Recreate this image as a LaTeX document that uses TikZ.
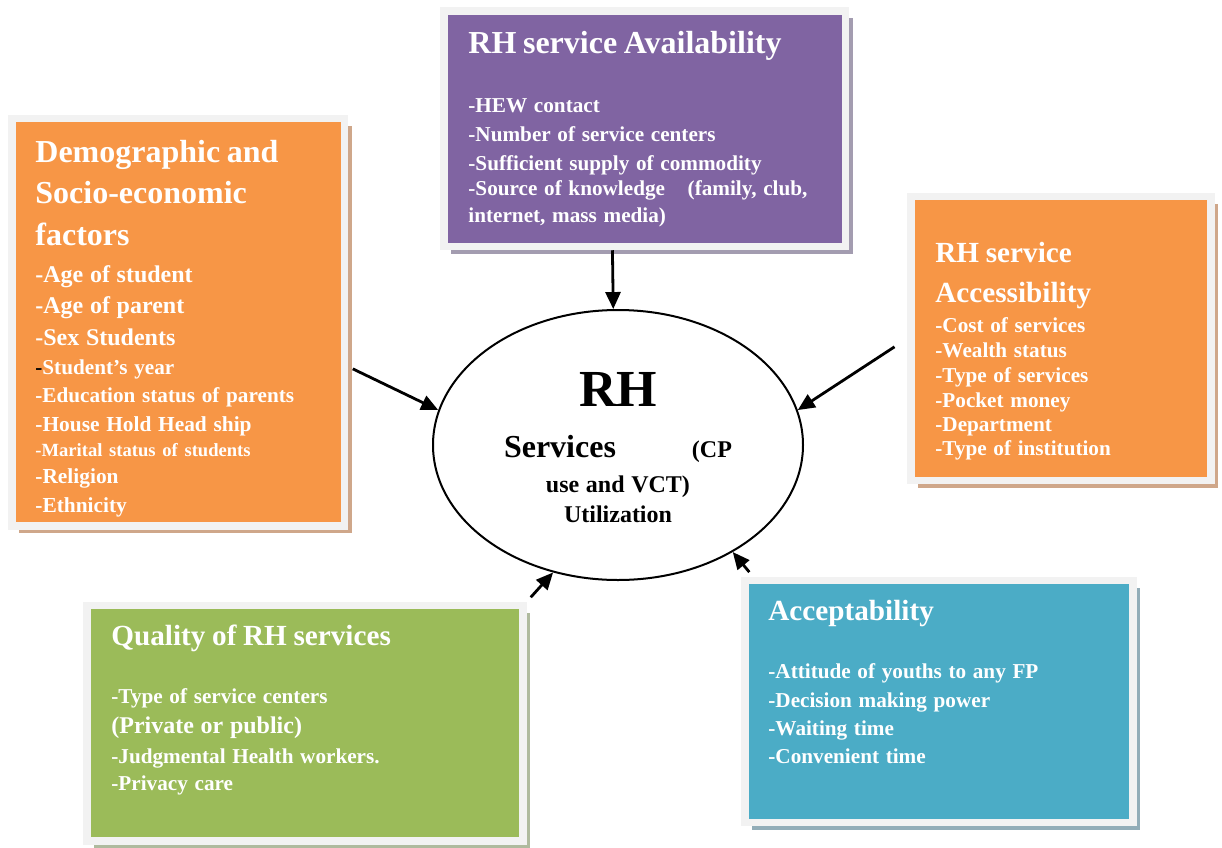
\documentclass[tikz,border=0pt]{standalone}
\usepackage{fontspec}
\setmainfont{Liberation Serif}
\usepackage{xcolor}
\usepackage{tikz}
\usetikzlibrary{arrows.meta,
                calc,
                shadows,
                shapes.geometric}
\definecolor{demoorange}{HTML}{F79646}
\definecolor{availpurple}{HTML}{8064A2}
\definecolor{qualgreen}{HTML}{9BBB59}
\definecolor{acceptblue}{HTML}{4BACC6}
\definecolor{framegray}{HTML}{F2F2F2}
\definecolor{orangeshade}{HTML}{CFA78A}
\definecolor{purpleshade}{HTML}{A39CB0}
\definecolor{greenshade}{HTML}{AFBA9E}
\definecolor{blueshade}{HTML}{92ADB8}
\tikzstyle{arrow} = [line width=1.4pt,-{Triangle[length=8.5pt,width=7.5pt]}]
\tikzstyle{panel} = [rectangle, draw=framegray, line width=3.75pt, inner sep=0pt]
\tikzstyle{paneltext} = [text=white, text width=180pt, align=left, inner sep=0pt, anchor=base west, font=\bfseries]
\tikzset{panelshadow/.style={drop shadow={opacity=1, fill=#1, shadow xshift=3.5pt, shadow yshift=-3.5pt}}}
% one line of text: size, distance from the line above, text
\newcommand{\tline}[3]{{\fontsize{#1}{#2}\selectfont #3\par}}

\begin{document}
\begin{tikzpicture}[x=0.5pt,y=-0.5pt]
        \fill[white] (0,0) rectangle (1222,847);
        \useasboundingbox (0,0) rectangle (1222,847);

        % the five factor boxes
        \node[panel, fill=demoorange, panelshadow=orangeshade, minimum width=166.25pt, minimum height=203.75pt] (demo) at (178.25,322.25) {};
        \node[panel, fill=availpurple, panelshadow=purpleshade, minimum width=200.75pt, minimum height=117.75pt] (avail) at (644.75,128.75) {};
        \node[panel, fill=demoorange, panelshadow=orangeshade, minimum width=150pt, minimum height=142pt] (access) at (1061,338.5) {};
        \node[panel, fill=qualgreen, panelshadow=greenshade, minimum width=218pt, minimum height=117.75pt] (quality) at (305,723.25) {};
        \node[panel, fill=acceptblue, panelshadow=blueshade, minimum width=194pt, minimum height=121pt] (accept) at (939,701.5) {};

        \node[paneltext] (demotxt) at (35,162) {%
            \tline{16}{20}{Demographic and}
            \tline{16}{20.5}{Socio-economic}
            \tline{16}{21}{factors}
            \tline{12}{18.5}{-Age of student}
            \tline{12}{15.5}{-Age of parent}
            \tline{12}{16}{-Sex Students}
            \tline{10.6}{14.5}{\textcolor{black}{-}Student’s year}
            \tline{10.6}{14}{-Education status of parents}
            \tline{10.7}{14.5}{-House Hold Head ship}
            \tline{9.3}{12.5}{-Marital status of students}
            \tline{10.7}{13.5}{-Religion}
            \tline{10.7}{14.5}{-Ethnicity}};
        \node[paneltext, text width=190pt] (availtxt) at (468,53) {%
            \tline{16}{20}{RH service Availability}
            \tline{10.6}{29.5}{-HEW contact}
            \tline{10.6}{14.5}{-Number of service centers}
            \tline{10.6}{14.5}{-Sufficient supply of commodity}
            \tline{10.6}{12.5}{-Source of knowledge \hspace*{8pt}(family, club,}
            \tline{10.6}{13.5}{internet, mass media)}};
        \node[paneltext, text width=140pt] (accesstxt) at (935,262) {%
            \tline{14.6}{18}{RH service}
            \tline{14.6}{20}{Accessibility}
            \tline{10.6}{15}{-Cost of services}
            \tline{10.6}{12.5}{-Wealth status}
            \tline{10.6}{12.5}{-Type of services}
            \tline{10.6}{12.5}{-Pocket money}
            \tline{10.6}{12}{-Department}
            \tline{10.6}{12}{-Type of institution}};
        \node[paneltext] (qualitytxt) at (111,645) {%
            \tline{14.6}{18}{Quality of RH services}
            \tline{10.6}{29}{-Type of service centers}
            \tline{12}{15}{(Private or public)}
            \tline{10.6}{15}{-Judgmental Health workers.}
            \tline{10.6}{13.5}{-Privacy care}};
        \node[paneltext] (accepttxt) at (768,620) {%
            \tline{14.6}{18}{Acceptability}
            \tline{10.6}{29}{-Attitude of youths to any FP}
            \tline{10.6}{14.5}{-Decision making power}
            \tline{10.6}{14}{-Waiting time}
            \tline{10.6}{14}{-Convenient time}};

        % the outcome in the middle
        \node[ellipse, draw, line width=1pt, fill=white, inner sep=0pt, minimum width=185pt, minimum height=135pt,
              text width=120pt, align=center, font=\bfseries] (util) at (618,445) {%
            \tline{26}{30}{\rule{0pt}{20pt}RH}
            \tline{16}{25.5}{Services\hspace*{38pt}{\fontsize{12}{15}\selectfont(CP}}
            \tline{12}{17.5}{use and VCT)}
            \tline{12}{15}{Utilization}};

        \draw[arrow, shorten <=2.5pt] ($(demo.north east)!0.607!(demo.south east)$) -- (util.169);
        \draw[arrow] ($(avail.south west)!0.421!(avail.south east)$) -- (util.92);
        \draw[arrow, shorten <=7.6pt] (access.west) -- (util.11);
        \draw[arrow, shorten <=3pt] (quality.north east) -- (util.243);
        \draw[arrow, shorten <=3pt] ($(accept.north west)!0.03!(accept.north east)$) -- (util.317);
    \end{tikzpicture}
\end{document}
